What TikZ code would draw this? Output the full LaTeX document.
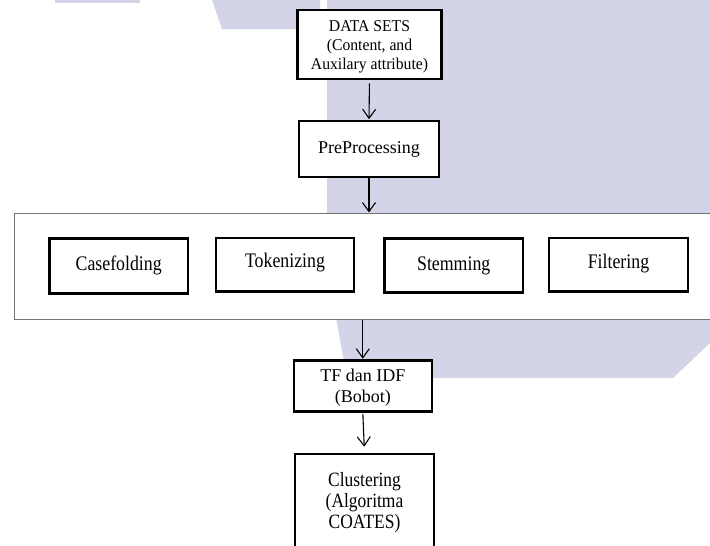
\documentclass[tikz,border=0pt]{standalone}
\usepackage{fontspec}
\setmainfont{Liberation Serif}
\newfontfamily\tallserif[FakeStretch=0.86]{Liberation Serif}
\newfontfamily\dataserif[FakeStretch=0.95]{Liberation Serif}
\usetikzlibrary{arrows.meta}
\definecolor{lav}{RGB}{212,212,232}
\definecolor{stageborder}{RGB}{115,115,115}
\tikzset{
  procbox/.style={draw=black, line width=2.6pt, fill=white, align=center, inner sep=0pt},
  stagebox/.style={draw=stageborder, line width=1pt, fill=white, inner sep=0pt},
  plaintext/.style={align=center, inner sep=0pt},
  flow/.style={draw=black, line width=1.1pt, -{Straight Barb[length=9pt,width=13pt,line width=1.1pt]}},
  txtA/.style={font=\dataserif\fontsize{16.5}{19}\selectfont},
  txtB/.style={font=\tallserif\fontsize{20.7}{21}\selectfont},
  txtC/.style={font=\fontsize{18}{21}\selectfont},
  txtD/.style={font=\tallserif\fontsize{20.3}{21}\selectfont}
}
\begin{document}
\begin{tikzpicture}[x=1pt,y=-1pt]
\useasboundingbox (0,0) rectangle (710,546);
\fill[white] (0,0) rectangle (710,546);
% background lavender shapes
\fill[lav] (55,0) rectangle (140,2.5);
\fill[lav] (212,0) -- (320,0) -- (320,29) -- (222,29) -- cycle;
\fill[lav] (327,0) -- (710,0) -- (710,343) -- (673,378) -- (347,378) -- (336,318) -- (327,213) -- cycle;

% stage box
\node[stagebox, minimum width=705.5pt, minimum height=106.6pt] (stage) at (367.25,266.3) {};

% boxes
\node[procbox, minimum width=144pt, minimum height=69pt] (data) at (369.5,44.5) {};
\node[plaintext, txtA] (datatxt) at (369.5,47) {DATA SETS\\(Content, and\\Auxilary attribute)};
\node[procbox, txtC, minimum width=140pt, minimum height=56pt] (pre) at (369,149) {PreProcessing};
\node[procbox, txtB, minimum width=138.6pt, minimum height=55pt] (case) at (118.7,265.8) {Casefolding};
\node[procbox, txtB, minimum width=138pt, minimum height=53.6pt, text depth=8pt] (tok) at (285,264.6) {Tokenizing};
\node[procbox, txtB, minimum width=138.5pt, minimum height=54pt] (stem) at (453.7,265.5) {Stemming};
\node[procbox, txtB, minimum width=139pt, minimum height=53.6pt, text depth=7pt] (filt) at (618.5,264.6) {Filtering};
\node[procbox, minimum width=138pt, minimum height=51pt] (tf) at (362.8,386) {};
\node[plaintext, txtC] (tftxt) at (362.8,387.5) {TF dan IDF\\(Bobot)};
\node[procbox, minimum width=139pt, minimum height=100pt] (clus) at (364.5,504) {};
\node[plaintext, txtD] (clustxt) at (364.5,502.5) {Clustering\\(Algoritma\\COATES)};

% connectors
\draw[flow, shorten <=3pt, shorten >=0.5pt] (data.south) -- (pre.north);
\draw[flow] (pre.south) -- (pre.south |- stage.north);
\draw[flow, shorten >=0.5pt] (tf.north |- stage.south) -- (tf.north);
\draw[flow, shorten <=1pt, shorten >=6pt] (tf.south) -- (clus.north);
\end{tikzpicture}
\end{document}
